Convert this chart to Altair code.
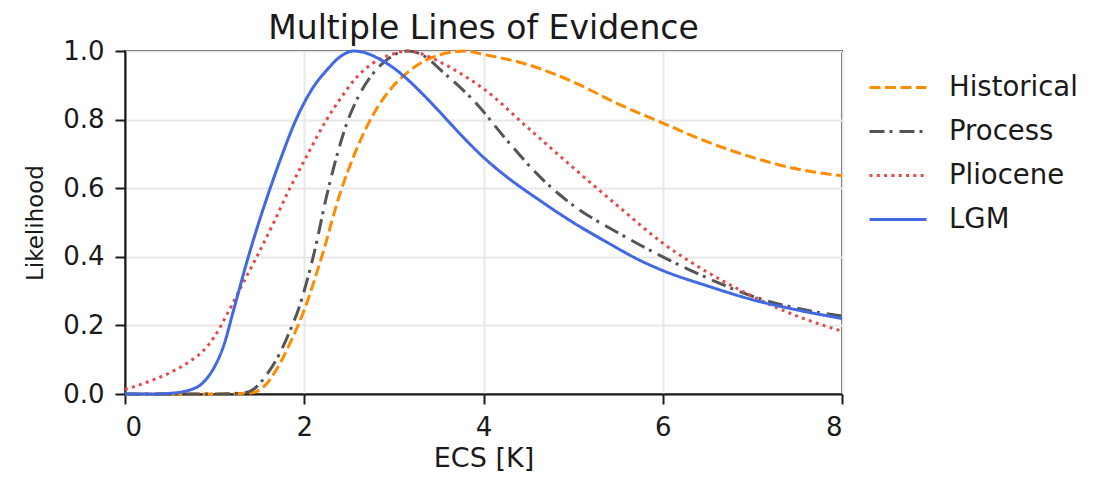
import altair as alt
import pandas as pd

series_order = ["Historical", "Process", "Pliocene", "LGM"]

hist_x = [0, 1.0, 1.4, 1.58, 1.73, 1.88, 2.0, 2.195, 2.4, 2.57, 2.77, 3.0, 3.14, 3.37, 3.5, 3.8, 4.0, 4.5, 5.0, 5.5, 6.0, 6.5, 7.0, 7.5, 8.0]
hist_y = [0, 0, 0.003, 0.03, 0.09, 0.17, 0.245, 0.40, 0.585, 0.705, 0.815, 0.90, 0.935, 0.975, 0.988, 1.0, 0.99, 0.96, 0.91, 0.846, 0.79, 0.735, 0.69, 0.656, 0.636]

proc_x = [0, 1.0, 1.32, 1.43, 1.58, 1.73, 1.85, 1.93, 2.1, 2.27, 2.49, 2.62, 2.77, 2.9, 3.0, 3.15, 3.37, 3.5, 3.92, 4.26, 4.63, 5.0, 5.5, 6.0, 6.5, 7.0, 7.5, 8.0]
proc_y = [0, 0, 0.003, 0.013, 0.056, 0.12, 0.19, 0.243, 0.40, 0.60, 0.80, 0.875, 0.935, 0.97, 0.988, 1.0, 0.98, 0.95, 0.847, 0.74, 0.633, 0.55, 0.47, 0.40, 0.338, 0.285, 0.25, 0.227]

plio_x = [0, 0.25, 0.5, 0.75, 0.87, 1.0, 1.15, 1.3, 1.47, 1.66, 1.84, 2.0, 2.25, 2.4, 2.59, 2.77, 3.0, 3.15, 3.5, 3.74, 4.0, 4.5, 5.0, 5.5, 6.0, 6.5, 7.0, 7.5, 8.0]
plio_y = [0.013, 0.035, 0.062, 0.10, 0.125, 0.168, 0.238, 0.315, 0.40, 0.50, 0.60, 0.68, 0.80, 0.86, 0.925, 0.965, 0.992, 1.0, 0.97, 0.935, 0.89, 0.775, 0.66, 0.548, 0.44, 0.355, 0.285, 0.227, 0.183]

lgm_x = [0, 0.3, 0.5, 0.7, 0.87, 1.0, 1.1, 1.21, 1.376, 1.62, 1.75, 1.9, 2.08, 2.25, 2.4, 2.55, 2.7, 2.85, 3.0, 3.14, 3.3, 3.52, 3.75, 4.0, 4.26, 4.63, 5.0, 5.38, 5.75, 6.0, 6.5, 7.0, 7.5, 8.0]
lgm_y = [0, 0, 0.002, 0.01, 0.033, 0.08, 0.14, 0.243, 0.40, 0.60, 0.695, 0.795, 0.886, 0.944, 0.983, 1.0, 0.993, 0.975, 0.95, 0.92, 0.88, 0.82, 0.755, 0.69, 0.633, 0.564, 0.50, 0.442, 0.389, 0.36, 0.315, 0.275, 0.245, 0.22]

x_ticks = [0, 2, 4, 6, 8]
y_ticks = [0.0, 0.2, 0.4, 0.6, 0.8, 1.0]

colors = ["#ff8c00", "#555555", "#e34a4a", "#4169e1"]
dashes = [[11, 4.5], [15, 5, 3, 7], [3, 4.3], [1, 0]]
widths = [3, 3, 3, 4]

rows = []
for name, xs, ys in [("Historical", hist_x, hist_y), ("Process", proc_x, proc_y),
                     ("Pliocene", plio_x, plio_y), ("LGM", lgm_x, lgm_y)]:
    for a, b in zip(xs, ys):
        rows.append({"ECS": a, "Likelihood": b, "series": name,
                     "order": series_order.index(name)})
df = pd.DataFrame(rows)

font = "DejaVu Sans"
ink = "#1a1a1a"

chart = alt.Chart(df).mark_line(interpolate="monotone", strokeCap="butt").encode(
    x=alt.X("ECS:Q", title="ECS [K]",
            scale=alt.Scale(domain=[0, 8], nice=False, zero=False),
            axis=alt.Axis(values=x_ticks, format="d", labelBaseline="alphabetic",
                          labelPadding=31, titleBaseline="alphabetic",
                          titleY=72, titleFontSize=27)),
    y=alt.Y("Likelihood:Q", title="Likelihood",
            scale=alt.Scale(domain=[0, 1], nice=False),
            axis=alt.Axis(values=y_ticks, format=".1f", labelPadding=11,
                          titleFontSize=23, titleBaseline="alphabetic", titleX=-83)),
    color=alt.Color("series:N", title=None,
                    scale=alt.Scale(domain=series_order, range=colors),
                    legend=alt.Legend(orient="none", legendX=743, legendY=6.5,
                                      symbolType="stroke", symbolSize=3249,
                                      labelFontSize=27.5, labelFont=font, labelColor=ink,
                                      rowPadding=0, labelOffset=21, padding=0)),
    strokeDash=alt.StrokeDash("series:N", title=None,
                              scale=alt.Scale(domain=series_order, range=dashes)),
    strokeWidth=alt.StrokeWidth("series:N", title=None,
                                scale=alt.Scale(domain=series_order, range=widths)),
    order=alt.Order("order:Q"),
).properties(
    width=717, height=343,
    title=alt.Title("Multiple Lines of Evidence", fontSize=33, font=font,
                    fontWeight="normal", color=ink, offset=-7.5),
    autosize=alt.AutoSizeParams(type="none"),
    padding={"left": 117, "top": 43, "right": 254, "bottom": 79},
).configure_view(
    stroke=ink, strokeWidth=2
).configure_axis(
    labelFont=font, titleFont=font, labelFontSize=26,
    labelColor=ink, titleColor=ink, titleFontWeight="normal",
    domainColor=ink, domainWidth=2, tickColor=ink, tickWidth=2,
    tickSize=10, gridColor="#e8e8e8", gridWidth=2,
)

chart.save("out.html", embed_options={"renderer": "svg", "actions": False})
